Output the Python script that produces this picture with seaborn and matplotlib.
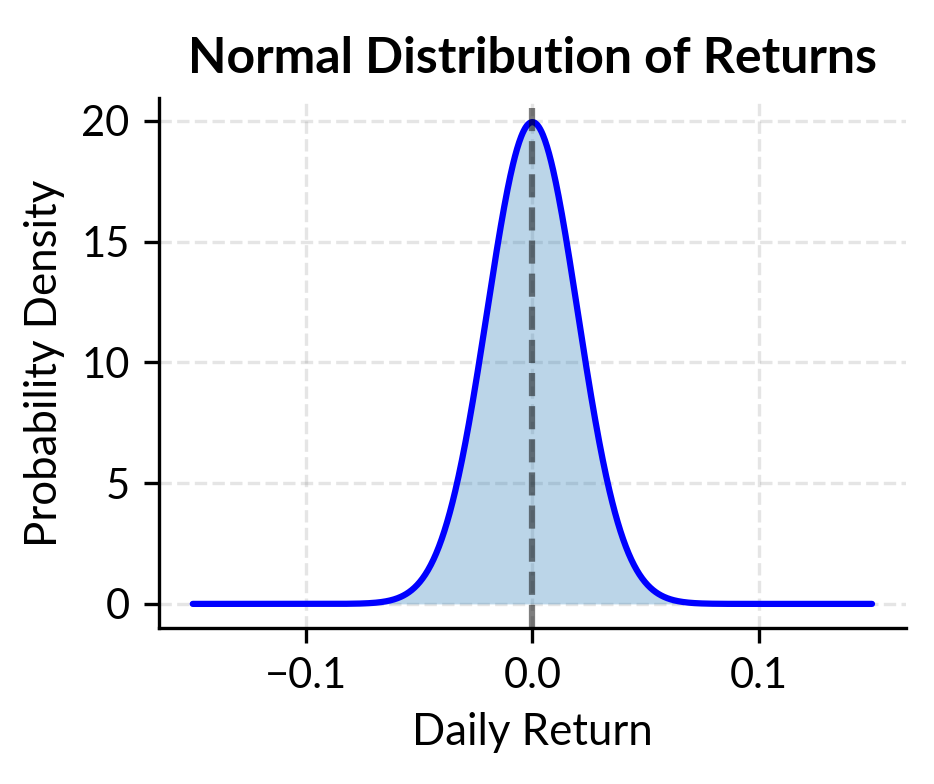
import numpy as np
import pandas as pd
import seaborn as sns
import matplotlib.pyplot as plt

# Parameters
mean_return = 0.0
std_return = 0.02
x_min, x_max = -0.15, 0.15
n_points = 1000

sns.set_theme(style="ticks")
plt.rcParams['font.family'] = ['Lato', 'DejaVu Sans']
plt.rcParams['text.color'] = 'black'
plt.rcParams['axes.labelcolor'] = 'black'
plt.rcParams['xtick.color'] = 'black'
plt.rcParams['ytick.color'] = 'black'

x = np.linspace(x_min, x_max, n_points)
pdf = np.exp(-0.5 * ((x - mean_return) / std_return) ** 2) / (std_return * np.sqrt(2 * np.pi))
df = pd.DataFrame({'Daily Return': x, 'Probability Density': pdf})

fig, ax = plt.subplots(figsize=(934 / 300, 784 / 300), dpi=300)
fig.subplots_adjust(left=0.170, right=0.970, top=0.875, bottom=0.199)

sns.lineplot(data=df, x='Daily Return', y='Probability Density', ax=ax,
             color='blue', linewidth=1.5)
ax.fill_between(df['Daily Return'], df['Probability Density'], color='tab:blue', alpha=0.3, linewidth=0)
ax.axvline(mean_return, color='black', alpha=0.5, linestyle='--', linewidth=1.5)

ax.grid(True, linestyle='--', alpha=0.2, color='gray', linewidth=0.8)
sns.despine(ax=ax)

ax.set_title('Normal Distribution of Returns', fontsize=12, fontweight='bold')
ax.set_xlabel('Daily Return', fontsize=10.5)
ax.set_ylabel('Probability Density', fontsize=10.5)
ax.tick_params(labelsize=10, width=0.8, length=3.5, color='black')
for s in ax.spines.values():
    s.set_color('black')
    s.set_linewidth(0.8)

plt.savefig('out.png', dpi=300)
